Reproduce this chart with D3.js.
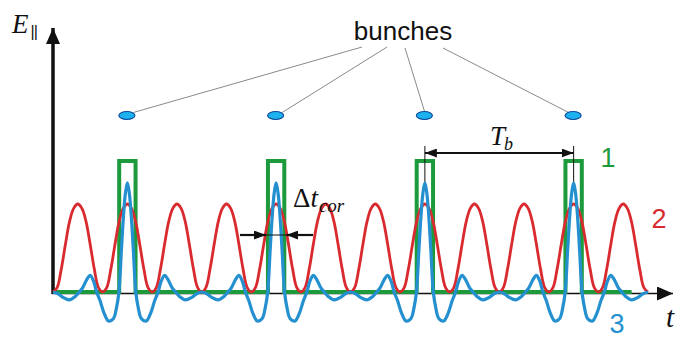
<!DOCTYPE html>
<html>
<head>
<meta charset="utf-8">
<script src="https://cdn.jsdelivr.net/npm/d3@7"></script>
<style>
  html, body { margin: 0; padding: 0; background: #fff; }
  svg { display: block; }
</style>
</head>
<body>
<svg id="chart" width="684" height="338"></svg>
<script>
// Time in units of the red period; bunch spacing Tb = 3.
const bunchT = [1.5, 4.5, 7.5, 10.5];
const redPeakT = [0.5, 1.5, 2.5, 3.5, 4.5, 5.5, 6.5, 7.5, 8.5, 9.5, 10.5, 11.5];

// One red pulse (offset from its peak, field value).
const redOffsets = [-6/12, -5/12, -4/12, -3/12, -2/12, -1/12, 0, 1/12, 2/12, 3/12, 4/12, 5/12, 6/12];
const redValues  = [0, 0.05, 0.26, 0.54, 0.8, 0.95, 1.0, 0.95, 0.8, 0.54, 0.26, 0.05, 0];

// Blue wake around one bunch (offset from the bunch, field value), one half; mirrored below.
const blueOffsetsHalf = [0, 0.04, 0.08, 0.12, 0.17, 0.22, 0.28, 0.38, 0.47, 0.55, 0.62, 0.68, 0.75, 0.82, 0.9, 0.97, 1.05, 1.17, 1.3, 1.4, 1.5];
const blueValuesHalf  = [1.24, 1.12, 0.85, 0.48, 0, -0.18, -0.3, -0.33, -0.24, -0.1, 0, 0.12, 0.19, 0.14, 0.05, 0, -0.05, -0.09, -0.06, -0.02, 0];

// Green gate: half width, height and end of the trace.
const gateHalf = 0.165;
const gateHeight = 1.49;
const greenEnd = 11.67;

const svg = d3.select("#chart");

const x = d3.scaleLinear().domain([0, 12]).range([53, 648]);
const y = d3.scaleLinear().domain([0, 1]).range([292, 204]);

const black = "#111";
const green = "#1c9a3c";
const red = "#d92b2f";
const blue = "#2590d0";

// arrow markers
const defs = svg.append("defs");
function marker(id, w, h) {
    defs.append("marker")
        .attr("id", id)
        .attr("viewBox", `0 ${-h} ${w} ${2 * h}`)
        .attr("refX", w).attr("refY", 0)
        .attr("markerWidth", w).attr("markerHeight", 2 * h)
        .attr("markerUnits", "userSpaceOnUse")
        .attr("orient", "auto-start-reverse")
        .append("path")
        .attr("d", `M0,${-h}L${w},0L0,${h}Z`)
        .attr("fill", black);
}
marker("axisHead", 16, 7);
marker("smallHead", 12, 4.5);

// axes
svg.append("line")
    .attr("x1", x(0)).attr("y1", y(0) + 2)
    .attr("x2", x(0)).attr("y2", 28)
    .attr("stroke", black).attr("stroke-width", 3.5)
    .attr("marker-end", "url(#axisHead)");
svg.append("line")
    .attr("x1", x(0) - 1).attr("y1", y(0) + 1.5)
    .attr("x2", 673).attr("y2", y(0) + 1.5)
    .attr("stroke", black).attr("stroke-width", 1.5)
    .attr("marker-end", "url(#axisHead)");

// green gate trace
const greenPts = [[0, 0]];
bunchT.forEach((b) => {
    greenPts.push([b - gateHalf, 0], [b - gateHalf, gateHeight], [b + gateHalf, gateHeight], [b + gateHalf, 0]);
});
greenPts.push([greenEnd, 0]);

const straight = d3.line().x((d) => x(d[0])).y((d) => y(d[1]));
svg.append("path")
    .attr("d", straight(greenPts))
    .attr("fill", "none")
    .attr("stroke", green)
    .attr("stroke-width", 4)
    .attr("stroke-linejoin", "miter");

// red trace
const redPts = [];
redPeakT.forEach((p, i) => {
    redOffsets.forEach((o, j) => {
        if (i > 0 && j === 0) return;
        redPts.push([p + o, redValues[j]]);
    });
});

// blue trace: mirror the half profile around each bunch
const blueOffsets = blueOffsetsHalf.slice(1).reverse().map((o) => -o).concat(blueOffsetsHalf);
const blueValues = blueValuesHalf.slice(1).reverse().concat(blueValuesHalf);
const bluePts = [];
bunchT.forEach((b, i) => {
    blueOffsets.forEach((o, j) => {
        if (i > 0 && j === 0) return;
        bluePts.push([b + o, blueValues[j]]);
    });
});

const smooth = d3.line()
    .x((d) => x(d[0]))
    .y((d) => y(d[1]))
    .curve(d3.curveCatmullRom.alpha(0.5));

// Tb marker lines (under the curves)
bunchT.slice(2).forEach((b) => {
    svg.append("line")
        .attr("x1", x(b)).attr("x2", x(b))
        .attr("y1", 146).attr("y2", y(1.22))
        .attr("stroke", black).attr("stroke-width", 1);
});

svg.append("path")
    .attr("d", smooth(redPts))
    .attr("fill", "none")
    .attr("stroke", red)
    .attr("stroke-width", 2.8);

svg.append("path")
    .attr("d", smooth(bluePts))
    .attr("fill", "none")
    .attr("stroke", blue)
    .attr("stroke-width", 3.2);

// Tb double arrow
svg.append("line")
    .attr("x1", x(bunchT[2])).attr("x2", x(bunchT[3]))
    .attr("y1", 153).attr("y2", 153)
    .attr("stroke", black).attr("stroke-width", 2)
    .attr("marker-start", "url(#smallHead)")
    .attr("marker-end", "url(#smallHead)");

// delta t_cor arrows around the second gate
const gl = x(bunchT[1] - gateHalf) - 2;
const gr = x(bunchT[1] + gateHalf) + 2;
svg.append("line")
    .attr("x1", gl).attr("x2", gr).attr("y1", 235).attr("y2", 235)
    .attr("stroke", black).attr("stroke-width", 1);
svg.append("line")
    .attr("x1", 240).attr("x2", gl).attr("y1", 235).attr("y2", 235)
    .attr("stroke", black).attr("stroke-width", 2.2)
    .attr("marker-end", "url(#smallHead)");
svg.append("line")
    .attr("x1", 313).attr("x2", gr).attr("y1", 235).attr("y2", 235)
    .attr("stroke", black).attr("stroke-width", 2.2)
    .attr("marker-end", "url(#smallHead)");

// bunches with pointer lines
const pointerStart = [[362, 47], [387, 47], [405, 48], [443, 48]];
const bunchY = 115.5;
bunchT.forEach((b, i) => {
    const bx = x(b);
    const ex = i < 2 ? bx + 6 : i === 2 ? bx : bx - 5;
    svg.append("line")
        .attr("x1", pointerStart[i][0]).attr("y1", pointerStart[i][1])
        .attr("x2", ex).attr("y2", bunchY - 3)
        .attr("stroke", "#8a8a8a").attr("stroke-width", 1);
});
svg.selectAll("ellipse.bunch")
    .data(bunchT)
    .join("ellipse")
    .attr("class", "bunch")
    .attr("cx", (d) => x(d) - 0.5)
    .attr("cy", bunchY)
    .attr("rx", 8).attr("ry", 4)
    .attr("fill", "#1cb2f0")
    .attr("stroke", "#0d4a9a")
    .attr("stroke-width", 1.2);

// labels
const sans = "'Liberation Sans', Arial, sans-serif";
const serif = "'Liberation Serif', 'Times New Roman', serif";

svg.append("text")
    .attr("x", 403).attr("y", 40)
    .attr("text-anchor", "middle")
    .attr("font-family", sans).attr("font-size", 26)
    .attr("fill", "#111")
    .text("bunches");

const eLab = svg.append("text")
    .attr("x", 12).attr("y", 33)
    .attr("font-family", serif).attr("font-size", 27)
    .attr("font-style", "italic").attr("fill", "#111");
eLab.append("tspan").text("E");
eLab.append("tspan")
    .attr("font-family", sans).attr("font-style", "normal")
    .attr("font-size", 16).attr("dx", 2).attr("dy", 4)
    .attr("letter-spacing", -1)
    .text("||");

svg.append("text")
    .attr("x", 666).attr("y", 327)
    .attr("font-family", serif).attr("font-size", 29)
    .attr("font-style", "italic").attr("fill", "#111")
    .text("t");

const tb = svg.append("text")
    .attr("x", 490).attr("y", 145)
    .attr("font-family", serif).attr("font-size", 27)
    .attr("font-style", "italic").attr("fill", "#111");
tb.append("tspan").text("T");
tb.append("tspan").attr("font-size", 18).attr("dy", 5).attr("dx", -1).text("b");

const dt = svg.append("text")
    .attr("x", 293).attr("y", 207)
    .attr("font-family", serif).attr("font-size", 27)
    .attr("fill", "#111");
dt.append("tspan").text("Δ");
dt.append("tspan").attr("font-style", "italic").text("t");
dt.append("tspan").attr("font-style", "italic")
    .attr("font-size", 19).attr("dy", 5).attr("dx", 1).text("cor");

[["1", 608, 167, green], ["2", 659, 228, red], ["3", 617, 333, blue]].forEach((d) => {
    svg.append("text")
        .attr("x", d[1]).attr("y", d[2])
        .attr("text-anchor", "middle")
        .attr("font-family", sans).attr("font-size", 27)
        .attr("fill", d[3])
        .text(d[0]);
});
</script>
</body>
</html>
